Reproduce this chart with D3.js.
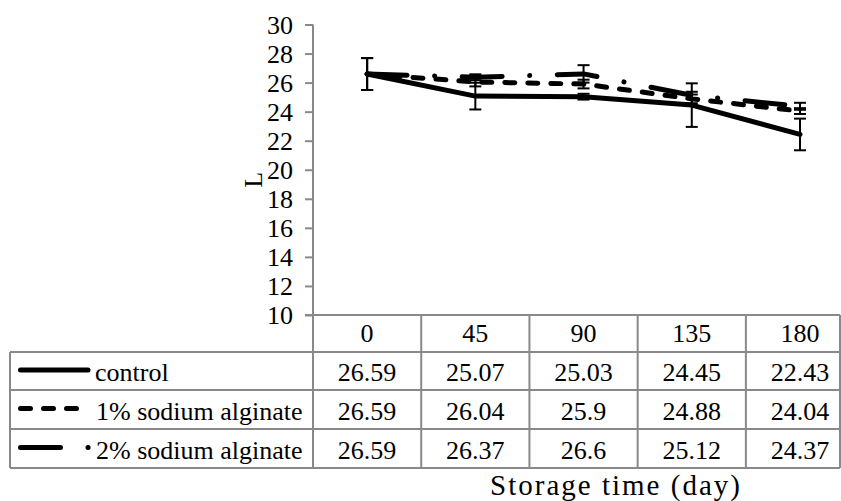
<!DOCTYPE html>
<html>
<head>
<meta charset="utf-8">
<script src="https://cdn.jsdelivr.net/npm/d3@7"></script>
<style>
  html, body { margin: 0; padding: 0; background: #fff; }
  svg text { font-family: "Liberation Serif", Tinos, "Times New Roman", "DejaVu Serif", serif; }
</style>
</head>
<body>
<svg id="chart" width="841" height="501"></svg>
<script>
// Storage days (table columns / x categories)
const days = ["0", "45", "90", "135", "180"];
const seriesNames = ["control", "1% sodium alginate", "2% sodium alginate"];

// L values per treatment
const control = [26.59, 25.07, 25.03, 24.45, 22.43];
const alginate1 = [26.59, 26.04, 25.9, 24.88, 24.04];
const alginate2 = [26.59, 26.37, 26.6, 25.12, 24.37];

// Standard deviations (error bars)
const controlErr = [1.1, 0.92, 0.2, 1.5, 1.09];
const alginate1Err = [1.1, 0.3, 0.3, 0.3, 0.2];
const alginate2Err = [1.1, 0.2, 0.6, 0.25, 0.24];

const yTicks = [10, 12, 14, 16, 18, 20, 22, 24, 26, 28, 30];

(function draw() {
  const series = [
    { name: seriesNames[0], values: control, err: controlErr, dash: null, keyEnd: 88 },
    { name: seriesNames[1], values: alginate1, err: alginate1Err, dash: "10,13", keyEnd: 80 },
    { name: seriesNames[2], values: alginate2, err: alginate2Err, dash: "40,27.5,0.1,27.5", keyEnd: 89 }
  ];

  const svg = d3.select("#chart");
  const grid = "#898989";
  const fontSize = 26;
  const serif = '"Liberation Serif", Tinos, "Times New Roman", "DejaVu Serif", serif';

  const plotLeft = 313, plotRight = 854.1, plotTop = 24.5, plotBottom = 315;
  const tableLeft = 10, tableRight = 840;
  const rowLines = [352, 390, 429, 468];

  const x = d3.scaleBand().domain(days).range([plotLeft, plotRight]);
  const y = d3.scaleLinear().domain([10, 30]).range([plotBottom, plotTop]);
  const cxOf = j => x(days[j]) + x.bandwidth() / 2;

  // Y axis with ticks pointing left
  const yAxis = svg.append("g")
    .attr("transform", `translate(${plotLeft},0)`)
    .call(d3.axisLeft(y).tickValues(yTicks).tickSize(8).tickPadding(12).tickFormat(d3.format("d")));
  yAxis.attr("font-family", serif).attr("font-size", fontSize);
  yAxis.select(".domain").remove();
  yAxis.selectAll(".tick line").attr("stroke", grid).attr("stroke-width", 2);
  yAxis.selectAll(".tick text")
    .attr("fill", "#000")
    .attr("dy", "0.34em");

  // Axis line continues down through the data table
  svg.append("line")
    .attr("x1", plotLeft).attr("x2", plotLeft)
    .attr("y1", plotTop).attr("y2", rowLines[3])
    .attr("stroke", grid).attr("stroke-width", 2);

  // Y axis title
  svg.append("text")
    .attr("transform", `translate(262,${(plotTop + plotBottom) / 2 + 10}) rotate(-90)`)
    .attr("text-anchor", "middle")
    .attr("font-size", fontSize)
    .text("L");

  // Data table grid
  const hLines = [
    { y: plotBottom, x1: plotLeft - 8, x2: tableRight },
    { y: rowLines[0], x1: tableLeft, x2: tableRight },
    { y: rowLines[1], x1: tableLeft, x2: tableRight },
    { y: rowLines[2], x1: tableLeft, x2: tableRight },
    { y: rowLines[3], x1: tableLeft, x2: tableRight }
  ];
  svg.append("g").selectAll("line").data(hLines).join("line")
    .attr("x1", d => d.x1).attr("x2", d => d.x2)
    .attr("y1", d => d.y).attr("y2", d => d.y)
    .attr("stroke", grid).attr("stroke-width", 2);

  const colEdges = days.slice(1).map(d => x(d));
  svg.append("g").selectAll("line").data(colEdges).join("line")
    .attr("x1", d => d).attr("x2", d => d)
    .attr("y1", plotBottom).attr("y2", rowLines[3])
    .attr("stroke", grid).attr("stroke-width", 2);
  svg.append("g").selectAll("line").data([tableLeft, tableRight]).join("line")
    .attr("x1", d => d).attr("x2", d => d)
    .attr("y1", (d, i) => i === 0 ? rowLines[0] : plotBottom).attr("y2", rowLines[3])
    .attr("stroke", grid).attr("stroke-width", 2);

  // Column headers
  svg.append("g").selectAll("text").data(days).join("text")
    .attr("x", (d, j) => cxOf(j))
    .attr("y", 342)
    .attr("text-anchor", "middle")
    .attr("font-size", fontSize)
    .text(d => d);

  // Table rows: legend key + values
  series.forEach((s, i) => {
    const cy = (rowLines[i] + rowLines[i + 1]) / 2;
    const key = svg.append("line")
      .attr("x1", 20.5).attr("x2", s.keyEnd)
      .attr("y1", cy - 1).attr("y2", cy - 1)
      .attr("stroke", "#000").attr("stroke-width", 5)
      .attr("stroke-linecap", "round");
    if (s.dash) key.attr("stroke-dasharray", s.dash);
    svg.append("text")
      .attr("x", i === 0 ? 95 : 96)
      .attr("y", cy + 10)
      .attr("font-size", fontSize)
      .text(s.name);
    svg.append("g").selectAll("text").data(s.values).join("text")
      .attr("x", (d, j) => cxOf(j))
      .attr("y", cy + 10)
      .attr("text-anchor", "middle")
      .attr("font-size", fontSize)
      .text(d => d);
  });

  // Series lines
  const line = d3.line()
    .x((d, j) => cxOf(j))
    .y(d => y(d));

  series.forEach(s => {
    const p = svg.append("path")
      .datum(s.values)
      .attr("d", line)
      .attr("fill", "none")
      .attr("stroke", "#000")
      .attr("stroke-width", 5)
      .attr("stroke-linecap", "round")
      .attr("stroke-linejoin", "round");
    if (s.dash) p.attr("stroke-dasharray", s.dash);
  });

  // Error bars
  series.forEach(s => {
    const g = svg.append("g").attr("stroke", "#000").attr("stroke-width", 2);
    s.values.forEach((v, j) => {
      const cx = cxOf(j);
      const hi = y(v + s.err[j]), lo = y(v - s.err[j]);
      g.append("line").attr("x1", cx).attr("x2", cx).attr("y1", hi).attr("y2", lo);
      g.append("line").attr("x1", cx - 6).attr("x2", cx + 6).attr("y1", hi).attr("y2", hi);
      g.append("line").attr("x1", cx - 6).attr("x2", cx + 6).attr("y1", lo).attr("y2", lo);
    });
  });

  // X axis title
  svg.append("text")
    .attr("x", 615)
    .attr("y", 495)
    .attr("text-anchor", "middle")
    .attr("font-size", 29)
    .attr("textLength", 250)
    .attr("lengthAdjust", "spacing")
    .text("Storage time (day)");
})();
</script>
</body>
</html>
